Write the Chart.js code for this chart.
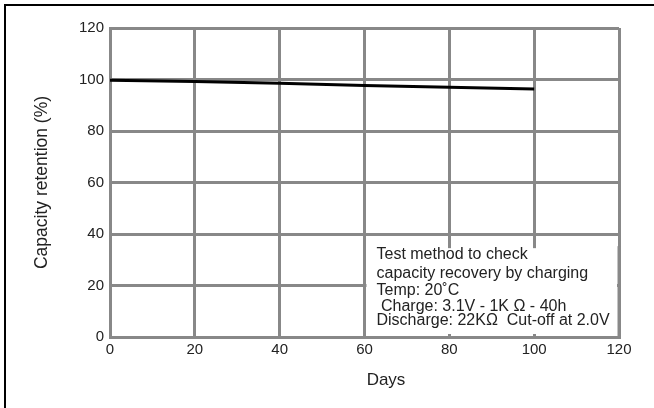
<!DOCTYPE html>
<html>
<head>
<meta charset="utf-8">
<script src="https://cdn.jsdelivr.net/npm/chart.js@4"></script>
<style>
  html, body { margin: 0; padding: 0; background: #fff; }
  #wrap { width: 654px; height: 408px; }
</style>
</head>
<body>
<div id="wrap"><canvas id="chart" width="654" height="408"></canvas></div>
<script>
// values
const days = [0, 20, 40, 60, 80, 100];
const retention = [99.7, 99.2, 98.5, 97.7, 97.0, 96.3];
const xTicks = [0, 20, 40, 60, 80, 100, 120];
const yTicks = [0, 20, 40, 60, 80, 100, 120];
const noteLines = [
  "Test method to check",
  "capacity recovery by charging",
  "Temp: 20˚C",
  " Charge: 3.1V - 1K Ω - 40h",
  "Discharge: 22KΩ  Cut-off at 2.0V"
];

const FONT = "'Liberation Sans', Arial, sans-serif";

// frame lines, axis title "Days" and the note box
const extras = {
  id: "extras",
  beforeDraw(chart) {
    const c = chart.ctx;
    c.save();
    c.strokeStyle = "#000";
    c.lineWidth = 2;
    c.beginPath();
    c.moveTo(5, 408);
    c.lineTo(5, 5);
    c.lineTo(654, 5);
    c.stroke();
    c.restore();
  },
  afterDatasetsDraw(chart) {
    const c = chart.ctx;
    const x = chart.scales.x, y = chart.scales.y;
    c.save();
    // white box over the grid
    const bx0 = x.getPixelForValue(60) + 2;
    const right = x.getPixelForValue(120);
    const by0 = y.getPixelForValue(34.5);
    const by1 = y.getPixelForValue(0) - 3;
    c.fillStyle = "#fff";
    c.fillRect(bx0, by0, right - 2 - bx0, by1 - by0);
    // keep the right frame line of the plot
    c.strokeStyle = "#888";
    c.lineWidth = 3;
    c.beginPath();
    c.moveTo(right, by0 - 2);
    c.lineTo(right, by1 + 2);
    c.stroke();
    c.fillStyle = "#222";
    c.font = "16px " + FONT;
    c.textBaseline = "alphabetic";
    const ys = [259, 278, 295, 311, 325];
    noteLines.forEach((t, i) => c.fillText(t, bx0 + 10, ys[i]));
    // x axis title
    c.font = "17px " + FONT;
    c.textAlign = "center";
    c.textBaseline = "middle";
    c.fillText("Days", 386, 380);
    c.restore();
  }
};

const ctx = document.getElementById("chart").getContext("2d");
new Chart(ctx, {
  type: "line",
  data: {
    labels: days,
    datasets: [{
      data: days.map((d, i) => ({ x: d, y: retention[i] })),
      borderColor: "#000",
      borderWidth: 3,
      pointRadius: 0,
      tension: 0,
      fill: false
    }]
  },
  options: {
    responsive: false,
    animation: false,
    layout: { padding: { left: 0, top: 28, right: 35, bottom: 0 } },
    plugins: { legend: { display: false }, tooltip: { enabled: false } },
    scales: {
      x: {
        type: "linear",
        min: 0, max: 120,
        afterBuildTicks: (s) => { s.ticks = xTicks.map(v => ({ value: v })); },
        afterFit: (s) => { s.height = 71; },
        grid: { color: "#888", lineWidth: 3, drawTicks: false },
        border: { color: "#888", width: 3 },
        ticks: { color: "#222", font: { size: 15, family: FONT }, padding: 4, maxRotation: 0 }
      },
      y: {
        min: 0, max: 120,
        afterBuildTicks: (s) => { s.ticks = yTicks.map(v => ({ value: v })); },
        afterFit: (s) => { s.width = 110; },
        grid: { color: "#888", lineWidth: 3, drawTicks: false },
        border: { color: "#888", width: 3 },
        title: {
          display: true,
          text: "Capacity retention (%)",
          color: "#222",
          font: { size: 17.5, family: FONT },
          padding: { top: 32, bottom: 0 }
        },
        ticks: { color: "#222", font: { size: 15, family: FONT }, padding: 6 }
      }
    }
  },
  plugins: [extras]
});
</script>
</body>
</html>
